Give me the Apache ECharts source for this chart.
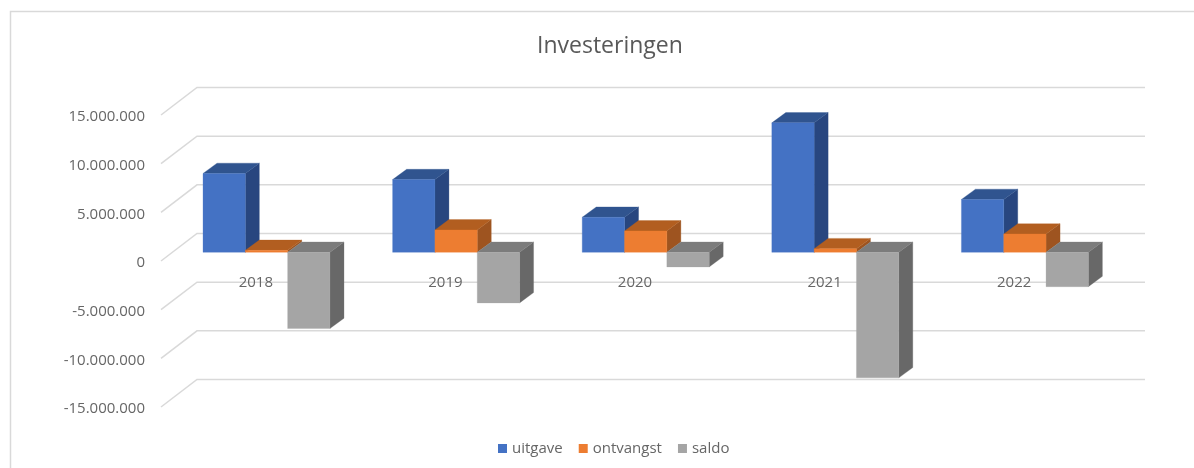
<!DOCTYPE html>
<html>
<head>
<meta charset="utf-8">
<style>html,body{margin:0;padding:0;background:#fff}#c{width:1194px;height:468px}</style>
<script src="https://cdn.jsdelivr.net/npm/echarts@6/dist/echarts.min.js"></script>
</head>
<body>
<div id="c"></div>
<script>
const categories = ['2018', '2019', '2020', '2021', '2022'];
const uitgave   = [8100000, 7470000, 3600000, 13300000, 5430000];
const ontvangst = [200000, 2300000, 2200000, 370000, 1880000];
const saldo     = [-7830000, -5200000, -1500000, -12900000, -3530000];
const wallTicks = [15000000, 10000000, 5000000, 0, -5000000, -10000000, -15000000];

const WALL_DX = 36, WALL_DY = -27.5;     // depth of the chart floor
const BAR_DX = 14, BAR_DY = -10.3;       // depth of one bar
const FRONT_DX = 10.7, FRONT_DY = -8.7;  // where the bars' front face sits

function fmt(v) {
  const s = String(Math.abs(v)).replace(/\B(?=(\d{3})+$)/g, '.');
  return (v < 0 ? '-' : '') + s;
}

function barRenderer(slot, front, top, side) {
  return function (params, api) {
    const cat = api.value(0), val = api.value(1);
    const band = api.size([1, 0])[0];
    const w = band * 0.2232;
    const c0 = api.coord([cat, 0]);
    const c1 = api.coord([cat, val]);
    const x0 = c0[0] + FRONT_DX + (slot - 1.5) * w;
    const x1 = x0 + w;
    const yZero = c0[1] + FRONT_DY;
    const yVal = c1[1] + FRONT_DY;
    const yTop = Math.min(yZero, yVal), yBot = Math.max(yZero, yVal);
    const poly = (pts, fill) => ({
      type: 'polygon',
      shape: { points: pts },
      style: { fill: fill, stroke: fill, lineWidth: 0.3 }
    });
    return {
      type: 'group',
      children: [
        poly([[x1, yTop], [x1 + BAR_DX, yTop + BAR_DY], [x1 + BAR_DX, yBot + BAR_DY], [x1, yBot]], side),
        poly([[x0, yTop], [x1, yTop], [x1 + BAR_DX, yTop + BAR_DY], [x0 + BAR_DX, yTop + BAR_DY]], top),
        poly([[x0, yTop], [x1, yTop], [x1, yBot], [x0, yBot]], front)
      ]
    };
  };
}

function wallRenderer(params, api) {
  const left = params.coordSys.x, right = left + params.coordSys.width;
  const p = api.coord([0, api.value(0)]);
  return {
    type: 'polyline',
    shape: { points: [[left, p[1]], [left + WALL_DX, p[1] + WALL_DY], [right + WALL_DX, p[1] + WALL_DY]] },
    style: { fill: 'none', stroke: '#d9d9d9', lineWidth: 1.5 }
  };
}

const chart = echarts.init(document.getElementById('c'), null, { renderer: 'canvas' });
chart.setOption({
  animation: false,
  backgroundColor: '#ffffff',
  title: {
    text: 'Investeringen',
    left: 532, top: 30,
    textStyle: { fontFamily: 'Open Sans', fontSize: 23, fontWeight: 'normal', color: '#595959' }
  },
  legend: {
    left: 493, top: 436,
    itemWidth: 9, itemHeight: 9, itemGap: 16,
    icon: 'rect',
    textStyle: { fontFamily: 'Open Sans', fontSize: 15, color: '#666666' },
    data: ['uitgave', 'ontvangst', 'saldo']
  },
  graphic: [{
    type: 'polyline', silent: true,
    shape: { points: [[10.5, 468], [10.5, 11.5], [1194, 11.5]] },
    style: { fill: 'none', stroke: '#d9d9d9', lineWidth: 1.5 }
  }],
  grid: { left: 161, width: 948, top: 115, height: 292 },
  xAxis: {
    type: 'category', data: categories,
    axisLine: { show: false }, axisTick: { show: false },
    axisLabel: { fontFamily: 'Open Sans', fontSize: 15, color: '#666666', margin: -132 },
    z: 5
  },
  yAxis: {
    type: 'value', min: -15000000, max: 15000000, interval: 5000000,
    splitLine: { show: false }, axisLine: { show: false }, axisTick: { show: false },
    axisLabel: { fontFamily: 'Open Sans', fontSize: 15, color: '#666666', margin: 16, verticalAlign: 'top', lineHeight: 4, formatter: fmt }
  },
  series: [
    { type: 'custom', name: 'wall', silent: true, z: 1, renderItem: wallRenderer,
      encode: { y: 0 }, data: wallTicks.map(v => [v]), legendHoverLink: false },
    { type: 'custom', name: 'uitgave', z: 3, itemStyle: { color: '#4472C4' },
      renderItem: barRenderer(0, '#4472C4', '#30548F', '#28467F'),
      encode: { x: 0, y: 1 }, data: uitgave.map((v, i) => [i, v]) },
    { type: 'custom', name: 'ontvangst', z: 3, itemStyle: { color: '#ED7D31' },
      renderItem: barRenderer(1, '#ED7D31', '#B25E20', '#9E5420'),
      encode: { x: 0, y: 1 }, data: ontvangst.map((v, i) => [i, v]) },
    { type: 'custom', name: 'saldo', z: 3, itemStyle: { color: '#A5A5A5' },
      renderItem: barRenderer(2, '#A5A5A5', '#7C7C7C', '#686868'),
      encode: { x: 0, y: 1 }, data: saldo.map((v, i) => [i, v]) }
  ]
});
</script>
</body>
</html>
